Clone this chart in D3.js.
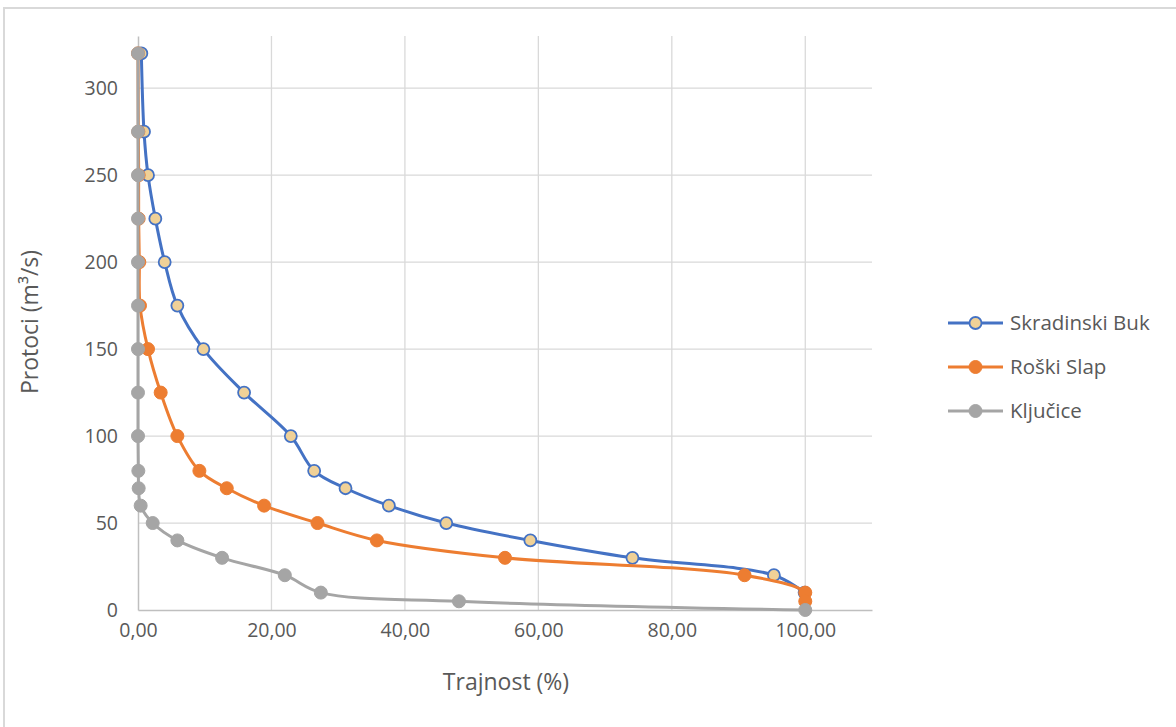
<!DOCTYPE html>
<html><head><meta charset="utf-8">
<script src="https://cdn.jsdelivr.net/npm/d3@7/dist/d3.min.js"></script>
<style>body{margin:0;background:#fff;} svg{display:block;} text{font-family:"Open Sans",Lato,sans-serif;fill:#595959;}</style>
</head><body>
<svg id="c" width="1176" height="727"></svg>
<script>
const seriesNames = ["Skradinski Buk", "Roški Slap", "Ključice"];
const skradinskiQ = [320, 275, 250, 225, 200, 175, 150, 125, 100, 80, 70, 60, 50, 40, 30, 20, 10];
const skradinskiP = [0.5, 0.9, 1.5, 2.6, 4.0, 5.9, 9.8, 15.9, 22.9, 26.4, 31.1, 37.6, 46.2, 58.8, 74.1, 95.3, 99.9];
const roskiQ = [320, 275, 250, 225, 200, 175, 150, 125, 100, 80, 70, 60, 50, 40, 30, 20, 10, 5];
const roskiP = [0.0, 0.05, 0.1, 0.1, 0.2, 0.3, 1.5, 3.4, 5.9, 9.2, 13.3, 18.9, 26.9, 35.8, 55.0, 90.9, 100, 100];
const kljuciceQ = [320, 275, 250, 225, 200, 175, 150, 125, 100, 80, 70, 60, 50, 40, 30, 20, 10, 5, 0];
const kljuciceP = [0.0, 0.0, 0.0, 0.0, 0.0, 0.0, 0.0, 0.0, 0.0, 0.05, 0.1, 0.4, 2.2, 5.9, 12.6, 22.0, 27.4, 48.1, 100];
const xTicks = [0, 20, 40, 60, 80, 100];
const yTicks = [0, 50, 100, 150, 200, 250, 300];

const svg = d3.select("#c");
const x = d3.scaleLinear().domain([0, 110]).range([138, 872]);
const y = d3.scaleLinear().domain([0, 330]).range([610, 36]);

// border
svg.append("path").attr("d", "M4,727 L4,8 L1176,8").attr("fill", "none").attr("stroke", "#d9d9d9").attr("stroke-width", 2);

// gridlines
const g = svg.append("g");
g.selectAll(".hg").data(yTicks.filter(d => d > 0)).join("line")
  .attr("x1", x(0)).attr("x2", x(110)).attr("y1", d => y(d)).attr("y2", d => y(d))
  .attr("stroke", "#d9d9d9").attr("stroke-width", 1.3);
g.selectAll(".vg").data(xTicks.filter(d => d > 0)).join("line")
  .attr("x1", d => x(d)).attr("x2", d => x(d)).attr("y1", y(330)).attr("y2", y(0))
  .attr("stroke", "#d9d9d9").attr("stroke-width", 1.3);

// axes
const xAxis = d3.axisBottom(x).tickValues(xTicks).tickSize(0).tickPadding(13)
  .tickFormat(d => d3.format(".2f")(d).replace(".", ","));
const gx = svg.append("g").attr("transform", `translate(0,${y(0)})`).call(xAxis);
gx.select(".domain").attr("stroke", "#bfbfbf").attr("stroke-width", 1.5);
gx.selectAll("text").attr("font-size", 19.5).style("fill", "#595959").style("font-family", "'Open Sans'");

const yAxis = d3.axisLeft(y).tickValues(yTicks).tickSize(0).tickPadding(20);
const gy = svg.append("g").attr("transform", `translate(${x(0)},0)`).call(yAxis);
gy.select(".domain").attr("stroke", "#bfbfbf").attr("stroke-width", 1.5);
gy.selectAll("text").attr("font-size", 19.5).style("fill", "#595959").style("font-family", "'Open Sans'");

svg.append("text").attr("x", 506).attr("y", 690).attr("text-anchor", "middle")
  .attr("font-size", 23).text("Trajnost (%)");
svg.append("text").attr("transform", "translate(38,322) rotate(-90)").attr("text-anchor", "middle")
  .attr("font-size", 23).text("Protoci (m³/s)");

const colors = ["#4472c4", "#ed7d31", "#a5a5a5"];
const fills = ["#f0d197", "#ed7d31", "#a5a5a5"];
const data = [
  skradinskiQ.map((q, i) => [skradinskiP[i], q]),
  roskiQ.map((q, i) => [roskiP[i], q]),
  kljuciceQ.map((q, i) => [kljuciceP[i], q])
];
const line = d3.line().x(d => x(d[0])).y(d => y(d[1])).curve(d3.curveCatmullRom.alpha(0.5));

data.forEach((s, i) => {
  const sg = svg.append("g");
  sg.append("path").attr("d", line(s)).attr("fill", "none").attr("stroke", colors[i])
    .attr("stroke-width", 3).attr("stroke-linejoin", "round");
  sg.selectAll("circle").data(s).join("circle")
    .attr("cx", d => x(d[0])).attr("cy", d => y(d[1])).attr("r", i === 0 ? 6 : 6.5)
    .attr("fill", fills[i]).attr("stroke", colors[i]).attr("stroke-width", i === 0 ? 1.8 : 1);
});

// legend
const lg = svg.append("g");
seriesNames.forEach((n, i) => {
  const ly = 323 + i * 44;
  lg.append("line").attr("x1", 948).attr("x2", 1003).attr("y1", ly).attr("y2", ly)
    .attr("stroke", colors[i]).attr("stroke-width", 3);
  lg.append("circle").attr("cx", 975.5).attr("cy", ly).attr("r", i === 0 ? 6 : 6.5)
    .attr("fill", fills[i]).attr("stroke", colors[i]).attr("stroke-width", i === 0 ? 1.8 : 1);
  lg.append("text").attr("x", 1010).attr("y", ly + 7).attr("font-size", 20.5).text(n);
});
</script>
</body></html>
